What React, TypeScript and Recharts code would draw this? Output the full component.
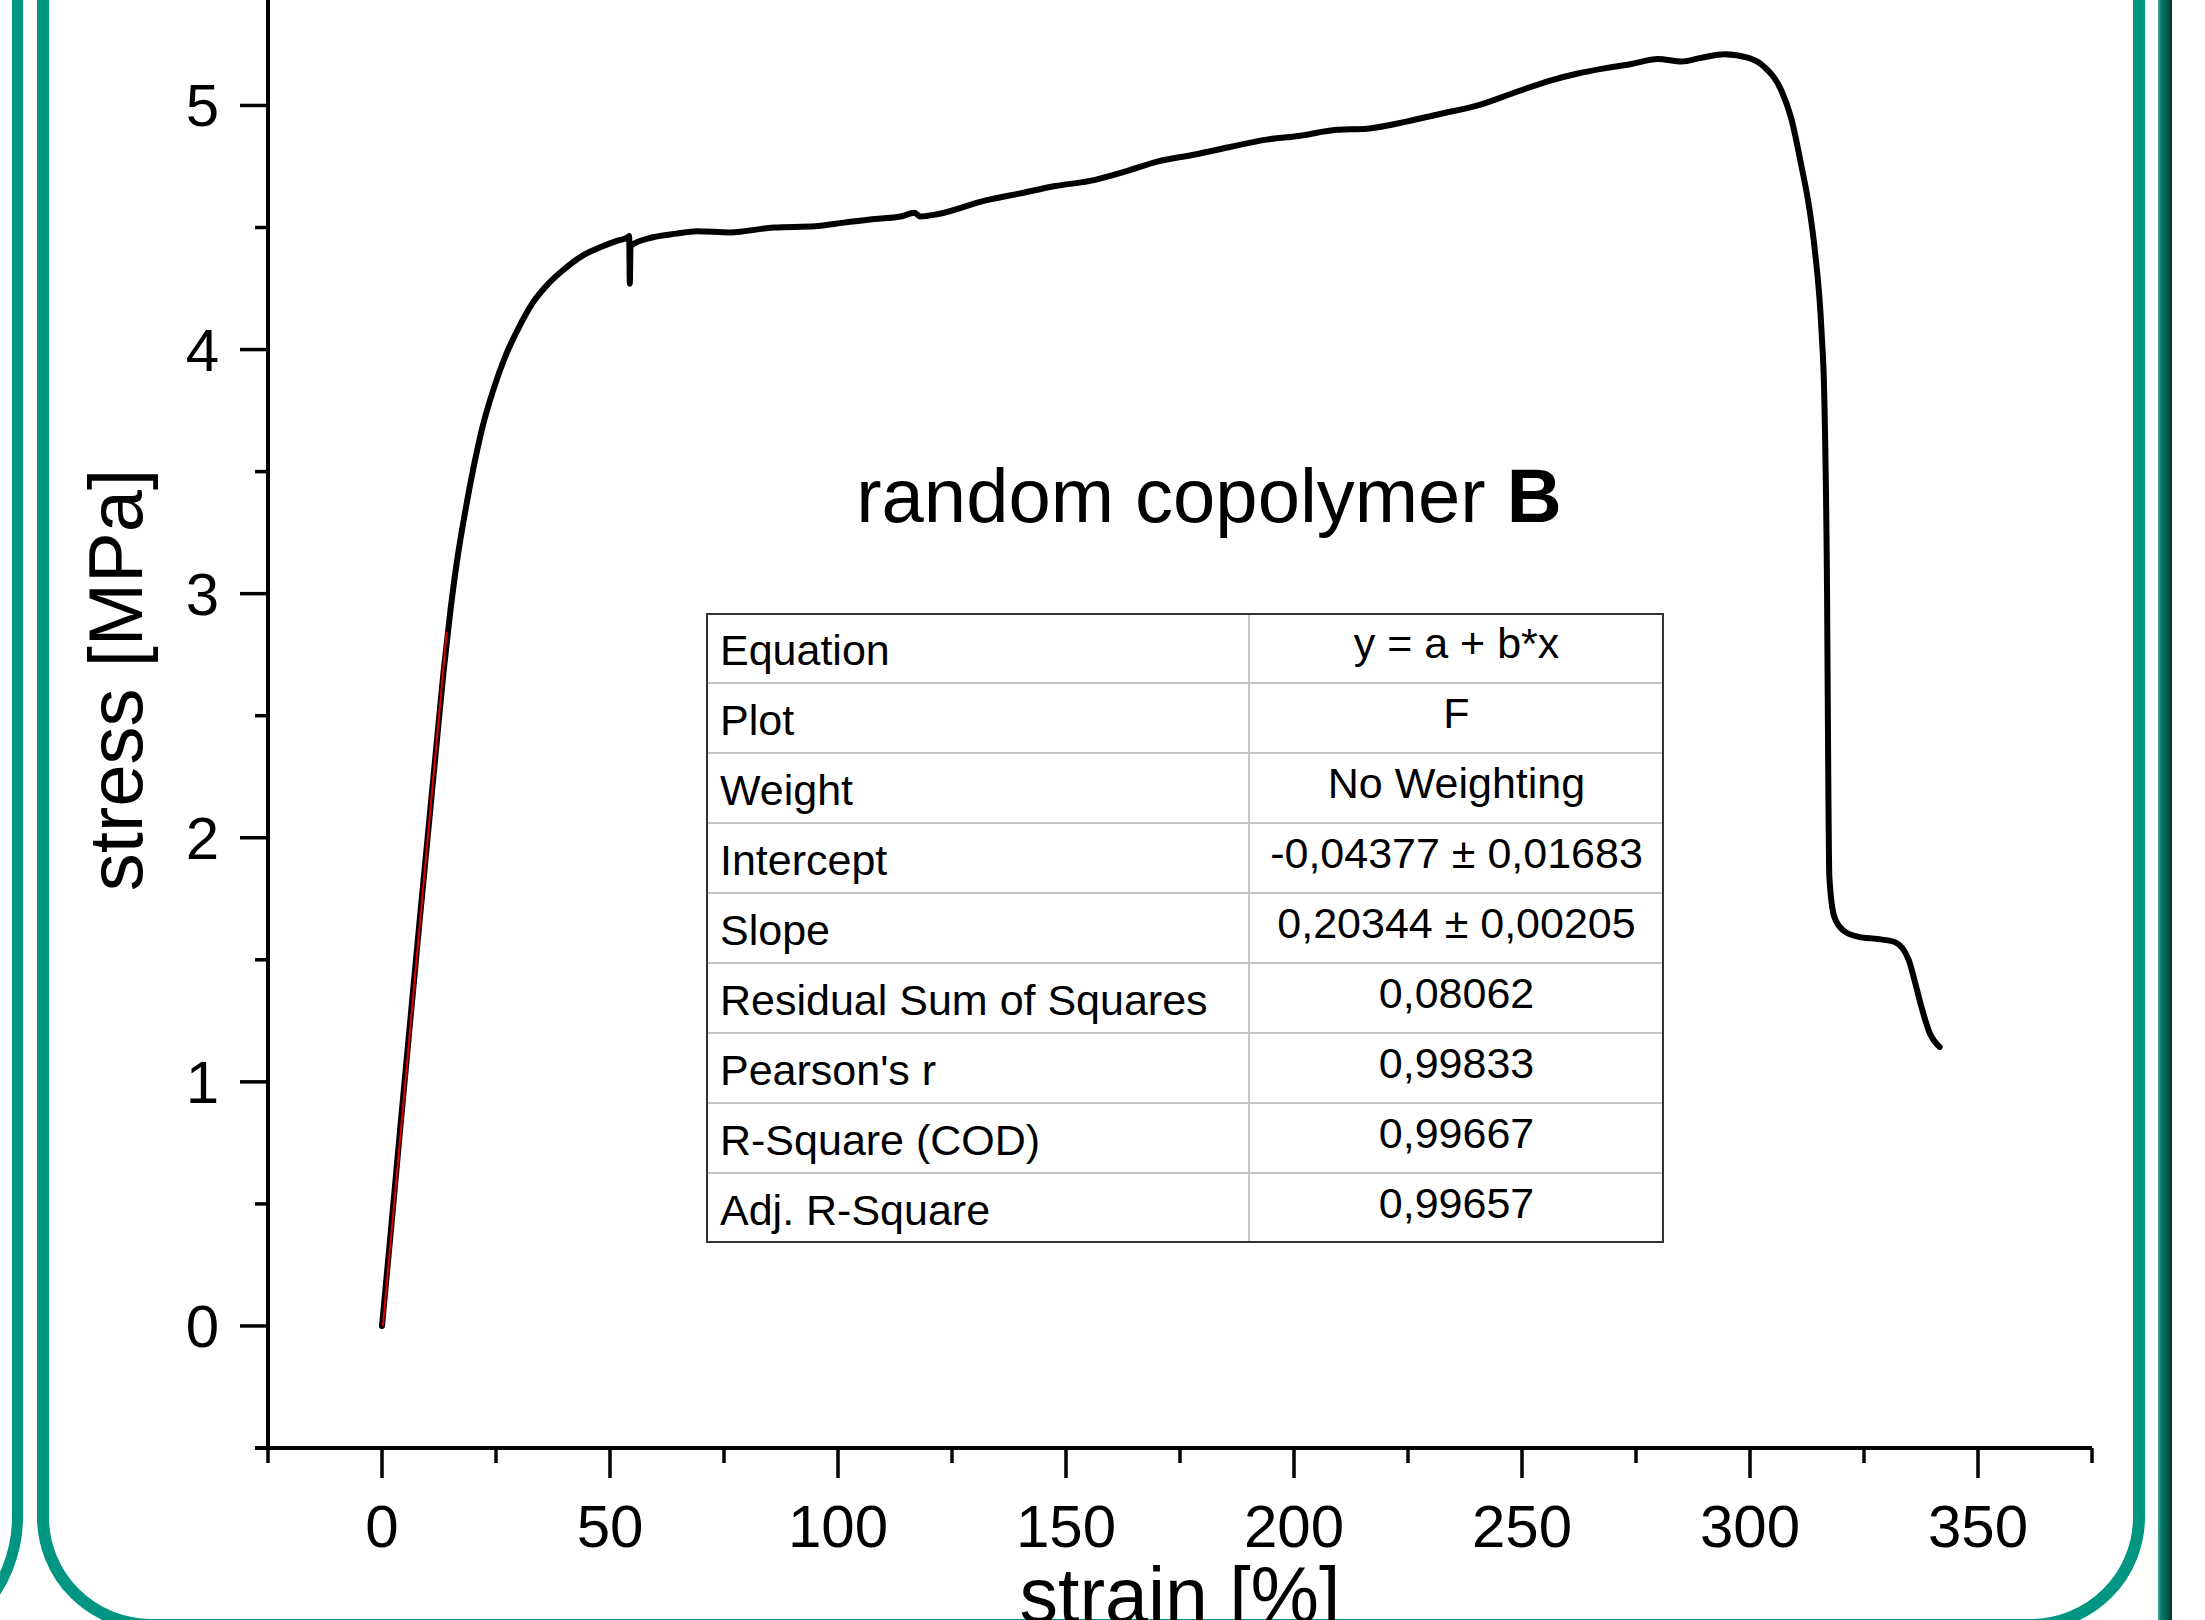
import React from 'react';
import { LineChart, Line, XAxis, YAxis } from 'recharts';

// measured tensile curve (strain in %, stress in MPa)
const strain = [
  0, 2, 4, 6, 8, 10, 12, 13.5, 15, 16.5, 18, 20, 22, 24.5, 27, 30, 33, 36.5, 40, 44, 48, 51.5,
  53.9, 54.2, 54.35, 54.5, 59.4, 64.6, 69, 76.3, 85.9, 95, 101.3, 108, 113.7, 116.8, 118, 122,
  132.2, 140, 147.7, 155, 163.1, 170, 178.6, 186, 194, 201, 209.4, 216, 224.9, 232, 240.3,
  248, 255.8, 262, 267.4, 274, 279.8, 285, 289.3, 294.4, 299.7, 303, 306.9, 309, 311.3, 313,
  314.2, 315.7, 316.3, 316.9, 317.2, 317.4, 318.5, 320.5, 323.8, 328, 331.7, 334.8, 336.3,
  337.6, 339.4, 341.6,
];
const stress = [
  0, 0.4, 0.81, 1.21, 1.61, 2.0, 2.39, 2.68, 2.93, 3.14, 3.31, 3.51, 3.68, 3.84, 3.97, 4.09, 4.19, 4.27, 4.33, 4.385, 4.42, 4.445,
  4.46, 4.465, 4.27, 4.425, 4.46, 4.475, 4.485, 4.48, 4.5, 4.505, 4.52, 4.535, 4.545, 4.56, 4.545, 4.555,
  4.61, 4.64, 4.67, 4.69, 4.73, 4.77, 4.8, 4.83, 4.86, 4.875, 4.9, 4.905, 4.935, 4.965, 5.0,
  5.05, 5.1, 5.13, 5.15, 5.17, 5.19, 5.18, 5.195, 5.21, 5.195, 5.16, 5.06, 4.95, 4.75, 4.58,
  4.41, 4.07, 3.8, 3.0, 2.155, 1.84, 1.675, 1.62, 1.594, 1.585, 1.573, 1.5, 1.4,
  1.307, 1.2, 1.143,
];

// linear fit segment (red)
const fitStrain = [0.2, 14.2];
const fitStress = [0.0, 2.845];

const xTicks = [-25, 0, 25, 50, 75, 100, 125, 150, 175, 200, 225, 250, 275, 300, 325, 350, 375];
const yTicks = [-0.5, 0, 0.5, 1, 1.5, 2, 2.5, 3, 3.5, 4, 4.5, 5];

const tableLabels = [
  'Equation', 'Plot', 'Weight', 'Intercept', 'Slope',
  'Residual Sum of Squares', "Pearson's r", 'R-Square (COD)', 'Adj. R-Square',
];
const tableValues = [
  'y = a + b*x', 'F', 'No Weighting', '-0,04377 ± 0,01683', '0,20344 ± 0,00205',
  '0,08062', '0,99833', '0,99667', '0,99657',
];

const curve = strain.map((x, i) => ({ x, y: stress[i] }));
const fit = fitStrain.map((x, i) => ({ x, y: fitStress[i] }));

const FONT = '"Liberation Sans", Arial, Helvetica, sans-serif';
const TEAL = '#009682';

const XTick = (props: any) => {
  const { x, y, payload } = props;
  const v = payload.value;
  const major = v % 50 === 0;
  return (
    <g>
      <line x1={x} y1={y} x2={x} y2={y + (major ? 30 : 15)} stroke="#000" strokeWidth={3.5} />
      {major && (
        <text x={x} y={y + 99} textAnchor="middle" fontSize={60} fontFamily={FONT} fill="#000">
          {v}
        </text>
      )}
    </g>
  );
};

const YTick = (props: any) => {
  const { x, y, payload } = props;
  const v = payload.value;
  const major = Number.isInteger(v);
  return (
    <g>
      <line x1={x} y1={y} x2={x - (major ? 28 : 13)} y2={y} stroke="#000" strokeWidth={3.5} />
      {major && (
        <text x={x - 49} y={y + 21} textAnchor="end" fontSize={60} fontFamily={FONT} fill="#000">
          {v}
        </text>
      )}
    </g>
  );
};

const ROW_H = 70;
const TABLE_TOP = 613;
const TABLE_LEFT = 706;
const TABLE_W = 958;
const COL_X = 1249;

const FitTable = () => (
  <div style={{ position: 'absolute', left: 0, top: 0, fontFamily: FONT, color: '#000' }}>
    <div
      style={{
        position: 'absolute', left: TABLE_LEFT, top: TABLE_TOP, width: TABLE_W,
        height: ROW_H * tableLabels.length, border: '2px solid #333', boxSizing: 'border-box',
      }}
    />
    {tableLabels.slice(1).map((_, i) => (
      <div
        key={'h' + i}
        style={{
          position: 'absolute', left: TABLE_LEFT + 2, top: TABLE_TOP + (i + 1) * ROW_H - 1,
          width: TABLE_W - 4, height: 2, background: '#c6c6c6',
        }}
      />
    ))}
    <div
      style={{
        position: 'absolute', left: COL_X - 1, top: TABLE_TOP + 2, width: 2,
        height: ROW_H * tableLabels.length - 4, background: '#c6c6c6',
      }}
    />
    {tableLabels.map((t, i) => (
      <div
        key={'l' + i}
        style={{
          position: 'absolute', left: 720, top: TABLE_TOP + i * ROW_H + 2, height: ROW_H,
          lineHeight: ROW_H + 'px', fontSize: 43, whiteSpace: 'nowrap',
        }}
      >
        {t}
      </div>
    ))}
    {tableValues.map((t, i) => (
      <div
        key={'v' + i}
        style={{
          position: 'absolute', left: COL_X, width: TABLE_LEFT + TABLE_W - COL_X,
          top: TABLE_TOP + i * ROW_H - 5, height: ROW_H, lineHeight: ROW_H + 'px',
          fontSize: 43, textAlign: 'center', whiteSpace: 'nowrap',
        }}
      >
        {t}
      </div>
    ))}
  </div>
);

export default function App() {
  return (
    <div
      style={{
        position: 'absolute', left: 0, top: 0, width: 2205, height: 1620,
        overflow: 'hidden', background: '#fff', fontFamily: FONT,
      }}
    >
      {/* poster frame decoration */}
      <div
        style={{
          position: 'absolute', left: -400, top: -300, width: 423, height: 1960,
          border: `11px solid ${TEAL}`, borderRadius: 143, boxSizing: 'border-box',
        }}
      />
      <div
        style={{
          position: 'absolute', left: 37, top: -300, width: 2108, height: 1931,
          border: `12px solid ${TEAL}`, borderRadius: 114, boxSizing: 'border-box',
        }}
      />
      <div
        style={{
          position: 'absolute', left: 2158, top: 0, width: 14, height: 1620,
          background: 'linear-gradient(to right, #4aa896, #007a66 25%, #005f50 65%, #0b2f29)',
        }}
      />

      {/* x axis line runs slightly past the y axis, as in the original */}
      <div style={{ position: 'absolute', left: 255, top: 1446, width: 15, height: 4, background: '#000' }} />

      <div style={{ position: 'absolute', left: 0, top: 0 }}>
        <LineChart width={2205} height={1620} margin={{ top: 0, right: 113, bottom: 0, left: 0 }}>
          <XAxis
            dataKey="x"
            type="number"
            domain={[-25, 375]}
            ticks={xTicks}
            interval={0}
            allowDataOverflow
            height={172}
            tickSize={0}
            tickMargin={0}
            tick={<XTick />}
            axisLine={{ stroke: '#000', strokeWidth: 4 }}
            label={{
              value: 'strain [%]', position: 'insideBottom', offset: -2,
              fontSize: 77, fill: '#000', fontFamily: FONT,
            }}
          />
          <YAxis
            dataKey="y"
            type="number"
            domain={[-0.5, 5.432]}
            ticks={yTicks}
            interval={0}
            allowDataOverflow
            width={268}
            tickSize={0}
            tickMargin={0}
            tick={<YTick />}
            axisLine={{ stroke: '#000', strokeWidth: 4 }}
            label={{
              value: 'stress [MPa]', position: 'center', angle: -90, dx: -19, dy: -44,
              fontSize: 76, fill: '#000', fontFamily: FONT,
            }}
          />
          <Line
            data={curve}
            dataKey="y"
            type="monotoneX"
            stroke="#000"
            strokeWidth={6}
            strokeLinejoin="round"
            strokeLinecap="round"
            dot={false}
            activeDot={false}
            isAnimationActive={false}
          />
          <Line
            data={fit}
            dataKey="y"
            type="linear"
            stroke="#e00000"
            strokeWidth={2}
            dot={false}
            activeDot={false}
            isAnimationActive={false}
          />
        </LineChart>
      </div>

      <svg
        width={2205}
        height={1620}
        style={{ position: 'absolute', left: 0, top: 0, pointerEvents: 'none' }}
      >
        <text x={1209} y={522} textAnchor="middle" fontSize={76} fontFamily={FONT} fill="#000">
          random copolymer <tspan fontWeight="bold">B</tspan>
        </text>
      </svg>

      <FitTable />
    </div>
  );
}
